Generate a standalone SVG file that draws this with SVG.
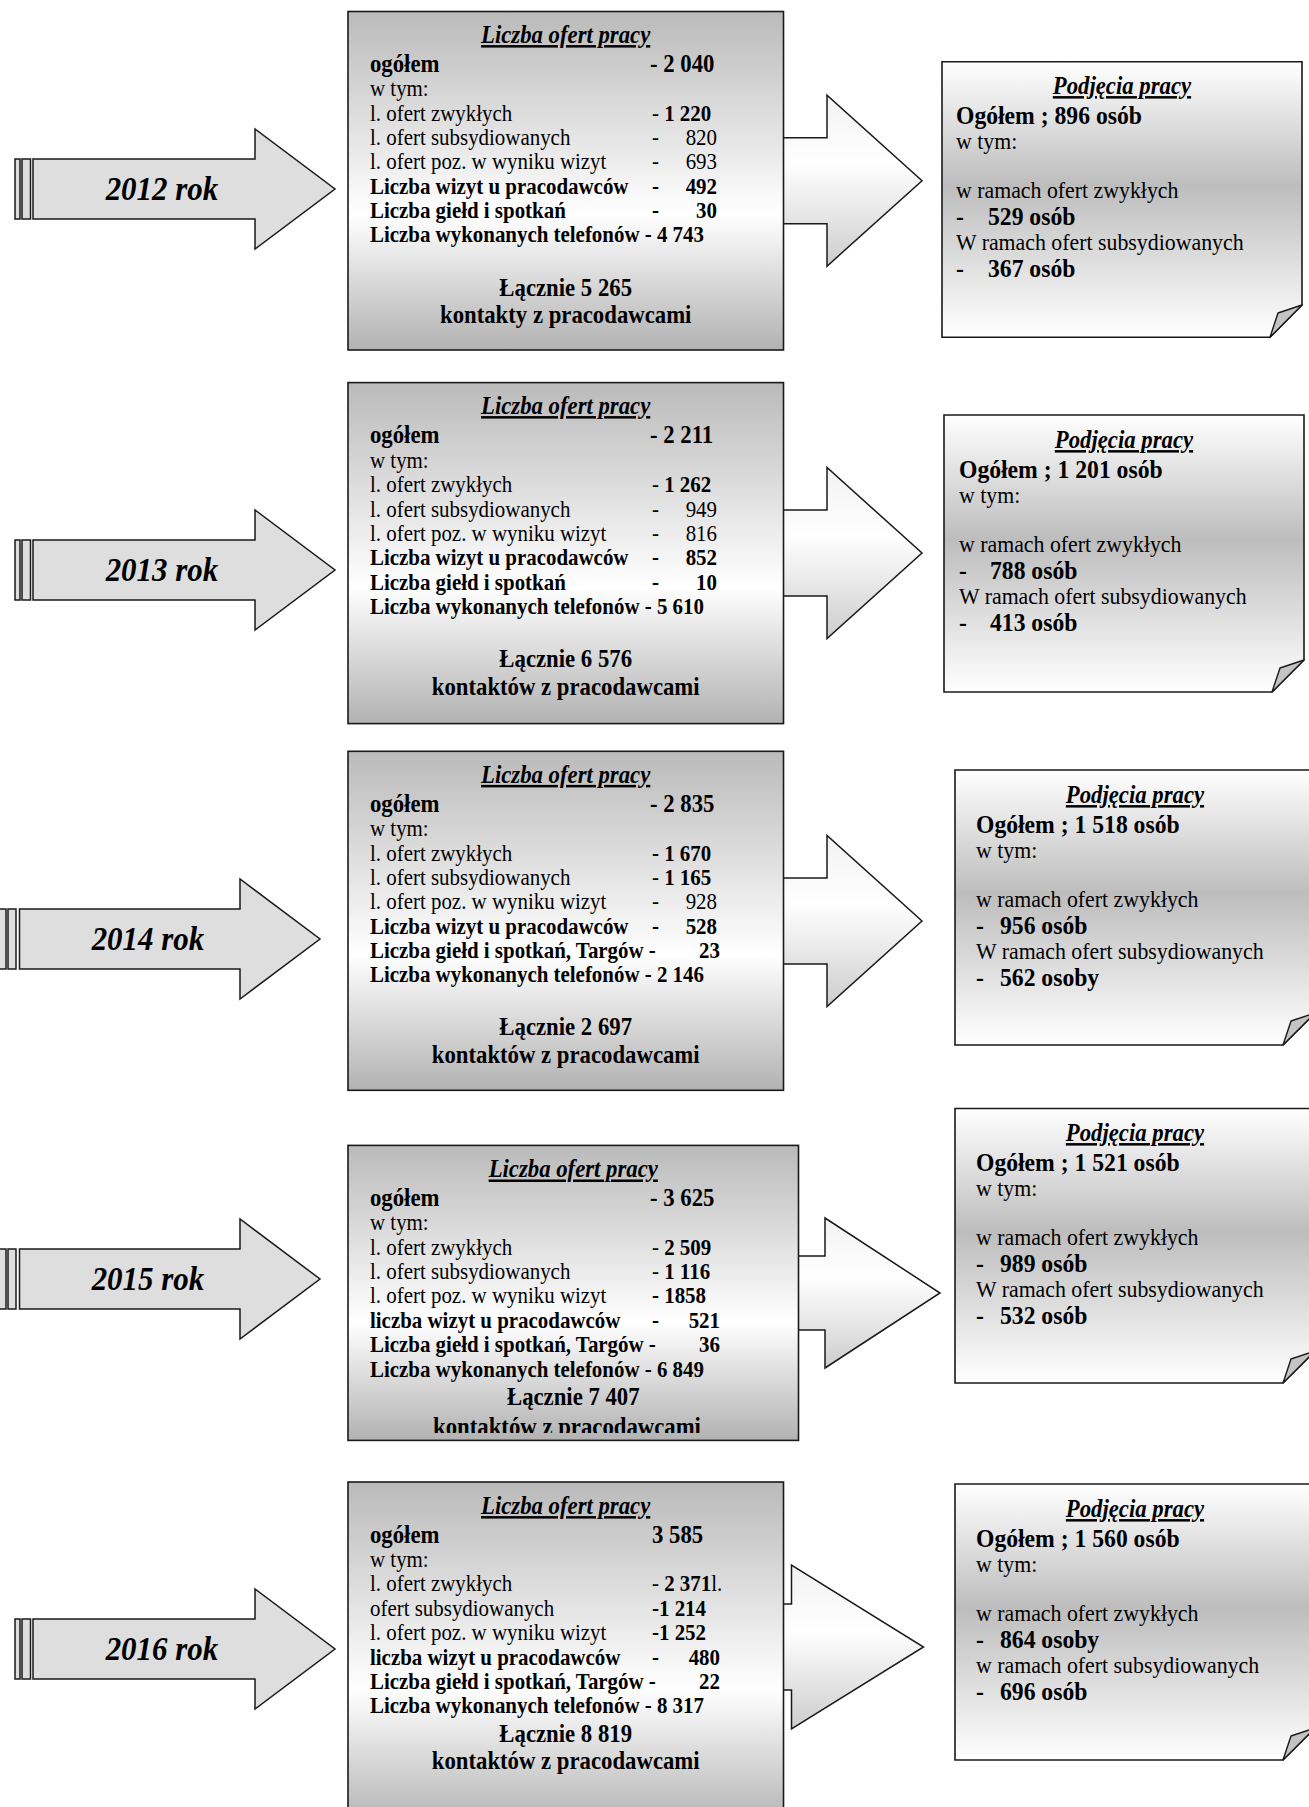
<svg xmlns="http://www.w3.org/2000/svg" width="1309" height="1807" viewBox="0 0 1309 1807" xml:space="preserve">
<defs>
<linearGradient id="gBox" x1="0" y1="0" x2="0" y2="1"><stop offset="0" stop-color="#bababa"/><stop offset="0.6" stop-color="#ffffff"/><stop offset="1" stop-color="#b2b2b2"/></linearGradient>
<linearGradient id="gNote" x1="0" y1="0" x2="0" y2="1"><stop offset="0" stop-color="#ffffff"/><stop offset="0.45" stop-color="#bdbdbd"/><stop offset="1" stop-color="#ffffff"/></linearGradient>
<linearGradient id="gArr" x1="0" y1="0" x2="0" y2="1"><stop offset="0" stop-color="#f2f2f2"/><stop offset="0.4" stop-color="#ffffff"/><stop offset="1" stop-color="#cdcdcd"/></linearGradient>
<clipPath id="clip4"><rect x="348" y="1145" width="451" height="288"/></clipPath>
</defs>
<style>
text{font-family:"Liberation Serif","Times New Roman",serif;fill:#000;transform-box:fill-box;transform-origin:0 0;transform:scaleX(0.91)}
.r{font-size:23px}
.b{font-size:23px;font-weight:bold}
.h{font-size:25px;font-weight:bold}
.ti{font-size:25px;font-weight:bold;font-style:italic;text-decoration:underline}
.yr{font-size:34px;font-weight:bold;font-style:italic}
.nr{font-size:24px}
.nb{font-size:26px;font-weight:bold}
.c{text-anchor:middle;transform-origin:50% 0}
.e{text-anchor:end;transform-origin:100% 0}
.box{fill:url(#gBox);stroke:#1a1a1a;stroke-width:1.6}
.note{fill:url(#gNote);stroke:#1a1a1a;stroke-width:1.6}
.fold{fill:#c4c4c4;stroke:#1a1a1a;stroke-width:1.4;stroke-linejoin:round}
.la{fill:#dedede;stroke:#1a1a1a;stroke-width:1.5}
.ra{fill:url(#gArr);stroke:#1a1a1a;stroke-width:1.5}
</style>
<rect x="0" y="0" width="1309" height="1807" fill="#ffffff"/>

<g id="connectors">
<path class="ra" d="M783.5,137.7 H827 V95.2 L922,180.7 L827,266.2 V223.7 H783.5"/>
<path class="ra" d="M783.5,510 H827 V467.5 L922,553 L827,638.5 V596 H783.5"/>
<path class="ra" d="M783.5,878 H827 V835.5 L922,921 L827,1006.5 V964 H783.5"/>
<path class="ra" d="M798.5,1256 H825 V1218 L940,1293 L825,1368 V1330 H798.5"/>
<path class="ra" d="M783.5,1604 H791.5 V1565 L923.5,1647 L791.5,1729 V1690 H783.5"/>
</g>

<g id="year2012">
<rect class="la" x="15" y="159" width="5" height="60"/><rect class="la" x="22" y="159" width="8.5" height="60"/>
<polygon class="la" points="33,159 255,159 255,129 335,189 255,249 255,219 33,219"/>
<text class="yr c" x="162" y="200">2012 rok</text>
</g>
<g id="year2013">
<rect class="la" x="15" y="540" width="5" height="60"/><rect class="la" x="22" y="540" width="8.5" height="60"/>
<polygon class="la" points="33,540 255,540 255,510 335,570 255,630 255,600 33,600"/>
<text class="yr c" x="162" y="581">2013 rok</text>
</g>
<g id="year2014">
<rect class="la" x="-1" y="909" width="7" height="60"/><rect class="la" x="8" y="909" width="8" height="60"/>
<polygon class="la" points="19.5,909 240,909 240,879 320,939 240,999 240,969 19.5,969"/>
<text class="yr c" x="148" y="950">2014 rok</text>
</g>
<g id="year2015">
<rect class="la" x="-1" y="1249" width="7" height="60"/><rect class="la" x="8" y="1249" width="8" height="60"/>
<polygon class="la" points="19.5,1249 240,1249 240,1219 320,1279 240,1339 240,1309 19.5,1309"/>
<text class="yr c" x="148" y="1290">2015 rok</text>
</g>
<g id="year2016">
<rect class="la" x="15" y="1619" width="5" height="60"/><rect class="la" x="22" y="1619" width="8.5" height="60"/>
<polygon class="la" points="33,1619 255,1619 255,1589 335,1649 255,1709 255,1679 33,1679"/>
<text class="yr c" x="162" y="1660">2016 rok</text>
</g>

<g id="offers2012">
<rect class="box" x="348" y="11.5" width="435.5" height="338.5"/>
<text class="ti c" x="565.7" y="43">Liczba ofert pracy</text>
<text class="h" x="370" y="72">ogółem</text><text class="h" x="650" y="72">- 2 040</text>
<text class="r" x="370" y="96.5">w tym:</text>
<text class="r" x="370" y="121">l. ofert zwykłych</text><text class="r" x="652" y="121">- <tspan class="b">1 220</tspan></text>
<text class="r" x="370" y="145.5">l. ofert subsydiowanych</text><text class="r" x="652" y="145.5">-</text><text class="r e" x="717" y="145.5">820</text>
<text class="r" x="370" y="169.5">l. ofert poz. w wyniku wizyt</text><text class="r" x="652" y="169.5">-</text><text class="r e" x="717" y="169.5">693</text>
<text class="b" x="370" y="194">Liczba wizyt u pracodawców</text><text class="b" x="652" y="194">-</text><text class="b e" x="717" y="194">492</text>
<text class="b" x="370" y="218.5">Liczba giełd i spotkań</text><text class="b" x="652" y="218.5">-</text><text class="b e" x="717" y="218.5">30</text>
<text class="b" x="370" y="242.5">Liczba wykonanych telefonów -  4 743</text>
<text class="h c" x="565.7" y="295.5">Łącznie  5 265</text>
<text class="h c" x="565.7" y="323.5">kontakty z pracodawcami</text>
</g>

<g id="offers2013">
<rect class="box" x="348" y="382.6" width="435.5" height="341"/>
<text class="ti c" x="565.7" y="414">Liczba ofert pracy</text>
<text class="h" x="370" y="443">ogółem</text><text class="h" x="650" y="443">- 2 211</text>
<text class="r" x="370" y="467.6">w tym:</text>
<text class="r" x="370" y="492">l. ofert zwykłych</text><text class="r" x="652" y="492">- <tspan class="b">1 262</tspan></text>
<text class="r" x="370" y="516.6">l. ofert subsydiowanych</text><text class="r" x="652" y="516.6">-</text><text class="r e" x="717" y="516.6">949</text>
<text class="r" x="370" y="540.6">l. ofert poz. w wyniku wizyt</text><text class="r" x="652" y="540.6">-</text><text class="r e" x="717" y="540.6">816</text>
<text class="b" x="370" y="565">Liczba wizyt u pracodawców</text><text class="b" x="652" y="565">-</text><text class="b e" x="717" y="565">852</text>
<text class="b" x="370" y="589.6">Liczba giełd i spotkań</text><text class="b" x="652" y="589.6">-</text><text class="b e" x="717" y="589.6">10</text>
<text class="b" x="370" y="613.6">Liczba wykonanych telefonów -  5 610</text>
<text class="h c" x="565.7" y="666.6">Łącznie  6 576</text>
<text class="h c" x="565.7" y="694.6">kontaktów z pracodawcami</text>
</g>

<g id="offers2014">
<rect class="box" x="348" y="751.3" width="435.5" height="339"/>
<text class="ti c" x="565.7" y="782.8">Liczba ofert pracy</text>
<text class="h" x="370" y="811.8">ogółem</text><text class="h" x="650" y="811.8">- 2 835</text>
<text class="r" x="370" y="836.3">w tym:</text>
<text class="r" x="370" y="860.8">l. ofert zwykłych</text><text class="b" x="652" y="860.8">- 1 670</text>
<text class="r" x="370" y="885.3">l. ofert subsydiowanych</text><text class="r" x="652" y="885.3">- <tspan class="b">1 165</tspan></text>
<text class="r" x="370" y="909.3">l. ofert poz. w wyniku wizyt</text><text class="r" x="652" y="909.3">-</text><text class="r e" x="717" y="909.3">928</text>
<text class="b" x="370" y="933.8">Liczba wizyt u pracodawców</text><text class="b" x="652" y="933.8">-</text><text class="b e" x="717" y="933.8">528</text>
<text class="b" x="370" y="958.3">Liczba giełd i spotkań, Targów -</text><text class="b e" x="720" y="958.3">23</text>
<text class="b" x="370" y="982.3">Liczba wykonanych telefonów -  2 146</text>
<text class="h c" x="565.7" y="1035.3">Łącznie  2 697</text>
<text class="h c" x="565.7" y="1063.3">kontaktów z pracodawcami</text>
</g>

<g id="offers2015">
<rect class="box" x="348" y="1145.4" width="450.5" height="295"/>
<g clip-path="url(#clip4)">
<text class="ti c" x="573.3" y="1177.4">Liczba ofert pracy</text>
<text class="h" x="370" y="1206.4">ogółem</text><text class="h" x="650" y="1206.4">- 3 625</text>
<text class="r" x="370" y="1230.4">w tym:</text>
<text class="r" x="370" y="1254.9">l. ofert zwykłych</text><text class="r" x="652" y="1254.9">- <tspan class="b">2 509</tspan></text>
<text class="r" x="370" y="1279.4">l. ofert subsydiowanych</text><text class="r" x="652" y="1279.4">- <tspan class="b">1 116</tspan></text>
<text class="r" x="370" y="1303.4">l. ofert poz. w wyniku wizyt</text><text class="b" x="652" y="1303.4">-  1858</text>
<text class="b" x="370" y="1328.4">liczba wizyt u pracodawców</text><text class="b" x="652" y="1328.4">-</text><text class="b e" x="720" y="1328.4">521</text>
<text class="b" x="370" y="1352.4">Liczba giełd i spotkań, Targów -</text><text class="b e" x="720" y="1352.4">36</text>
<text class="b" x="370" y="1376.9">Liczba wykonanych telefonów -  6 849</text>
<text class="h c" x="573.3" y="1405.4">Łącznie  7 407</text>
<text class="h c" x="567" y="1435">kontaktów z pracodawcami</text>
</g>
</g>

<g id="offers2016">
<rect class="box" x="348" y="1482" width="435.5" height="345"/>
<text class="ti c" x="565.7" y="1514">Liczba ofert pracy</text>
<text class="h" x="370" y="1543">ogółem</text><text class="h" x="652" y="1543">3 585</text>
<text class="r" x="370" y="1567">w tym:</text>
<text class="r" x="370" y="1591.5">l. ofert zwykłych</text><text class="r" x="652" y="1591.5">- <tspan class="b">2 371</tspan>l.</text>
<text class="r" x="370" y="1616">ofert subsydiowanych</text><text class="b" x="652" y="1616">-1  214</text>
<text class="r" x="370" y="1640">l. ofert poz. w wyniku wizyt</text><text class="b" x="652" y="1640">-1 252</text>
<text class="b" x="370" y="1665">liczba wizyt u pracodawców</text><text class="b" x="652" y="1665">-</text><text class="b e" x="720" y="1665">480</text>
<text class="b" x="370" y="1689">Liczba giełd i spotkań, Targów -</text><text class="b e" x="720" y="1689">22</text>
<text class="b" x="370" y="1713.5">Liczba wykonanych telefonów -  8 317</text>
<text class="h c" x="565.7" y="1742">Łącznie  8 819</text>
<text class="h c" x="565.7" y="1769">kontaktów z pracodawcami</text>
</g>

<g id="hires2012">
<path class="note" d="M942,61.7 H1302 V305 L1270,337.3 H942 Z"/>
<path class="fold" d="M1270,337.3 L1278,313 L1302,305 Z"/>
<text class="ti c" x="1122" y="94">Podjęcia pracy</text>
<text class="nb" x="956" y="124.5">Ogółem ;  896 osób</text>
<text class="nr" x="956" y="149.5">w tym:</text>
<text class="nr" x="956" y="198.5"> w ramach ofert zwykłych</text>
<text class="nb" x="956" y="225.5">-</text><text class="nb" x="988" y="225.5">529 osób</text>
<text class="nr" x="956" y="250.5">W ramach ofert subsydiowanych</text>
<text class="nb" x="956" y="277.5">-</text><text class="nb" x="988" y="277.5">367 osób</text>
</g>

<g id="hires2013">
<path class="note" d="M944,415 H1304 V660 L1272,692 H944 Z"/>
<path class="fold" d="M1272,692 L1280,668 L1304,660 Z"/>
<text class="ti c" x="1124" y="448">Podjęcia pracy</text>
<text class="nb" x="959" y="478">Ogółem ; 1 201 osób</text>
<text class="nr" x="959" y="503">w tym:</text>
<text class="nr" x="959" y="552"> w ramach ofert zwykłych</text>
<text class="nb" x="959" y="579">-</text><text class="nb" x="990" y="579">788 osób</text>
<text class="nr" x="959" y="604">W ramach ofert subsydiowanych</text>
<text class="nb" x="959" y="631">-</text><text class="nb" x="990" y="631">413 osób</text>
</g>

<g id="hires2014">
<path class="note" d="M955,770 H1315 V1013 L1283,1045 H955 Z"/>
<path class="fold" d="M1283,1045 L1291,1021 L1315,1013 Z"/>
<text class="ti c" x="1135" y="803">Podjęcia pracy</text>
<text class="nb" x="976" y="833">Ogółem ; 1 518 osób</text>
<text class="nr" x="976" y="858">w tym:</text>
<text class="nr" x="976" y="907"> w ramach ofert zwykłych</text>
<text class="nb" x="976" y="934">-</text><text class="nb" x="1000" y="934">956 osób</text>
<text class="nr" x="976" y="959">W ramach ofert subsydiowanych</text>
<text class="nb" x="976" y="986">-</text><text class="nb" x="1000" y="986">562 osoby</text>
</g>

<g id="hires2015">
<path class="note" d="M955,1108.5 H1315 V1351 L1283,1383 H955 Z"/>
<path class="fold" d="M1283,1383 L1291,1359 L1315,1351 Z"/>
<text class="ti c" x="1135" y="1141">Podjęcia pracy</text>
<text class="nb" x="976" y="1171">Ogółem ;  1 521 osób</text>
<text class="nr" x="976" y="1196">w tym:</text>
<text class="nr" x="976" y="1245"> w ramach ofert zwykłych</text>
<text class="nb" x="976" y="1272">-</text><text class="nb" x="1000" y="1272">989 osób</text>
<text class="nr" x="976" y="1297">W ramach ofert subsydiowanych</text>
<text class="nb" x="976" y="1324">-</text><text class="nb" x="1000" y="1324">532 osób</text>
</g>

<g id="hires2016">
<path class="note" d="M955,1484 H1315 V1728 L1283,1760 H955 Z"/>
<path class="fold" d="M1283,1760 L1291,1736 L1315,1728 Z"/>
<text class="ti c" x="1135" y="1517">Podjęcia pracy</text>
<text class="nb" x="976" y="1547">Ogółem ;  1 560 osób</text>
<text class="nr" x="976" y="1572">w tym:</text>
<text class="nr" x="976" y="1621"> w ramach ofert zwykłych</text>
<text class="nb" x="976" y="1648">-</text><text class="nb" x="1000" y="1648">864 osoby</text>
<text class="nr" x="976" y="1673">w ramach ofert subsydiowanych</text>
<text class="nb" x="976" y="1700">-</text><text class="nb" x="1000" y="1700">696 osób</text>
</g>
</svg>
